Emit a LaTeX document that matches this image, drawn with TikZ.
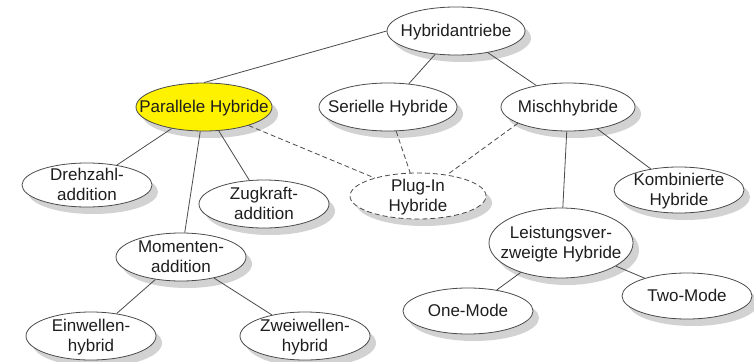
\documentclass[tikz,border=0pt]{standalone}
\usepackage{fontspec}
\setmainfont{Liberation Sans}
\usetikzlibrary{shapes.geometric,shadows}
\definecolor{edgecol}{HTML}{4A4A4A}
\definecolor{txtcol}{HTML}{1E1E1E}
\definecolor{shadecol}{HTML}{CDCDCD}
\newcommand{\ntxt}[1]{\smash{\makebox[0pt]{\raisebox{-6pt}{\begin{tabular}{@{}c@{}}#1\end{tabular}}}}}
\tikzset{
  topic/.style args={#1/#2}{ellipse, draw=edgecol, line width=0.8pt, fill=white,
    minimum width=#1pt, minimum height=#2pt, inner sep=0pt, text=txtcol,
    font=\fontsize{17}{19.5}\selectfont,
    drop shadow={shadow xshift=6pt, shadow yshift=-7pt, fill=shadecol, draw=none, opacity=0.9}},
  link/.style={draw=edgecol, line width=0.8pt},
  dlink/.style={link, dash pattern=on 5pt off 3pt},
}
\begin{document}
\begin{tikzpicture}[x=1pt, y=-1pt]
\useasboundingbox (0,0) rectangle (754,361);
\node[topic=138/48] (hyb) at (456,31) {\ntxt{Hybridantriebe}};
\node[topic=136/48, fill=yellow] (par) at (204,107) {\ntxt{Parallele Hybride}};
\node[topic=138/48] (ser) at (388,107) {\ntxt{Serielle Hybride}};
\node[topic=134/48] (misch) at (568,107) {\ntxt{Mischhybride}};
\node[topic=130/44] (dreh) at (87,185) {\ntxt{Drehzahl-\\addition}};
\node[topic=130/48] (zug) at (264,204) {\ntxt{Zugkraft-\\addition}};
\node[topic=136/46, dash pattern=on 5pt off 3pt] (plug) at (418,196) {\ntxt{Plug-In\\Hybride}};
\node[topic=130/46] (komb) at (679,190) {\ntxt{Kombinierte\\Hybride}};
\node[topic=130/48] (mom) at (181,257) {\ntxt{Momenten-\\addition}};
\node[topic=144/70] (leist) at (561,243) {\ntxt{Leistungsver-\\zweigte Hybride}};
\node[topic=130/46] (one) at (468,311) {\ntxt{One-Mode}};
\node[topic=130/46] (two) at (687,296) {\ntxt{Two-Mode}};
\node[topic=130/48] (ein) at (91,336) {\ntxt{Einwellen-\\hybrid}};
\node[topic=130/48] (zwei) at (305,336) {\ntxt{Zweiwellen-\\hybrid}};
\draw[link] (par.north) -- (hyb.west);
\draw[link] (hyb) -- (ser);
\draw[link] (hyb) -- (misch);
\draw[link] (par) -- (dreh);
\draw[link] (par) -- (zug);
\draw[link] (par) -- (mom);
\draw[dlink] (par) -- (plug);
\draw[dlink] (ser) -- (plug);
\draw[dlink] (misch.198) -- (plug);
\draw[link] (misch) -- (komb);
\draw[link] (misch) -- (leist);
\draw[link] (mom) -- (ein);
\draw[link] (mom) -- (zwei);
\draw[link] (leist) -- (one);
\draw[link] (leist) -- (two);
\end{tikzpicture}
\end{document}
